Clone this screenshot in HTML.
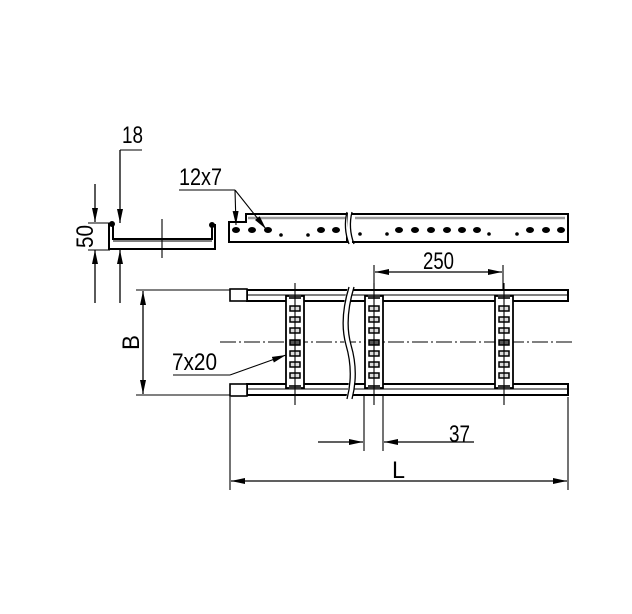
<!DOCTYPE html>
<html><head><meta charset="utf-8"><style>
html,body{margin:0;padding:0;background:#fff;}
svg{display:block;}
text{font-family:"Liberation Sans",sans-serif;fill:#000;}
</style></head><body>
<svg width="632" height="614" viewBox="0 0 632 614" xmlns="http://www.w3.org/2000/svg">
<defs>
<marker id="a" markerWidth="14" markerHeight="6" refX="14" refY="3" orient="auto" markerUnits="userSpaceOnUse"><path d="M0,0 L14,3 L0,6 Z" fill="#000"/></marker>
<g id="rung">
<rect x="-9" y="296" width="18" height="92" fill="#fff" stroke="#000" stroke-width="1.8"/>
<rect x="-6" y="295" width="12" height="4" fill="#333"/>
<rect x="-5" y="306" width="10" height="5" fill="#ddd" stroke="#000" stroke-width="1.5"/>
<rect x="-5" y="317" width="10" height="5" fill="#ddd" stroke="#000" stroke-width="1.5"/>
<rect x="-5" y="328" width="10" height="5" fill="#ddd" stroke="#000" stroke-width="1.5"/>
<rect x="-5" y="340" width="10" height="5" fill="#555" stroke="#000" stroke-width="1.5"/>
<rect x="-5" y="351" width="10" height="5" fill="#ddd" stroke="#000" stroke-width="1.5"/>
<rect x="-5" y="362" width="10" height="5" fill="#ddd" stroke="#000" stroke-width="1.5"/>
<rect x="-5" y="373" width="10" height="5" fill="#ddd" stroke="#000" stroke-width="1.5"/>
<rect x="-6" y="385" width="12" height="4" fill="#333"/>
<line x1="0" y1="283" x2="0" y2="405" stroke="#000" stroke-width="1.1"/>
</g>
</defs>
<g stroke="#000" fill="none">
<path d="M109,224 L109,249 L215,249 L215,225 L212,225 L212,239 L113,239 L113,224 Z" fill="#fff" stroke-width="2"/>
<line x1="113" y1="241" x2="212" y2="241" stroke-width="1"/>
<line x1="162" y1="219" x2="162" y2="258" stroke-width="1.1"/>
<circle cx="112" cy="224" r="2.5" fill="#000"/><circle cx="212" cy="225" r="2.5" fill="#000"/>
<line x1="95" y1="184" x2="95" y2="222" stroke-width="1.3" marker-end="url(#a)"/>
<line x1="95" y1="303" x2="95" y2="250" stroke-width="1.3" marker-end="url(#a)"/>
<line x1="88" y1="223" x2="110" y2="223" stroke-width="1.1"/>
<line x1="88" y1="250" x2="110" y2="250" stroke-width="1.1"/>
<line x1="120" y1="150" x2="120" y2="223" stroke-width="1.3" marker-end="url(#a)"/>
<line x1="120" y1="303" x2="120" y2="250" stroke-width="1.3" marker-end="url(#a)"/>
<line x1="120" y1="150" x2="142" y2="150" stroke-width="1.1"/>
<path d="M229,222 L246,222 L246,214 L347,214 L347,242 L229,242 Z" fill="#fff" stroke-width="2"/>
<path d="M352,214 L568,214 L568,242 L352,242" fill="#fff" stroke-width="2"/>
<line x1="248" y1="218" x2="346" y2="218" stroke="#999" stroke-width="2.5"/>
<line x1="355" y1="218" x2="565" y2="218" stroke="#999" stroke-width="2.5"/>
<path d="M347,212 Q343,228 349,244" stroke-width="1.3" fill="#fff"/>
<path d="M352,212 Q348,228 354,244" stroke-width="1.3"/>
<line x1="179" y1="190" x2="235" y2="190" stroke-width="1.1"/>
<line x1="235" y1="190" x2="236" y2="225" stroke-width="1.1" marker-end="url(#a)"/>
<line x1="235" y1="190" x2="266" y2="229" stroke-width="1.1" marker-end="url(#a)"/>
</g>
<g fill="#000">
<ellipse cx="236" cy="230" rx="4" ry="3"/><ellipse cx="252" cy="230" rx="4" ry="3"/><ellipse cx="268" cy="230" rx="4" ry="3"/>
<circle cx="281" cy="235" r="1.8"/><circle cx="308" cy="235" r="1.8"/>
<ellipse cx="321" cy="230" rx="4" ry="3"/><ellipse cx="336" cy="230" rx="4" ry="3"/>
<circle cx="360" cy="234" r="1.8"/><circle cx="387" cy="234" r="1.8"/>
<ellipse cx="399" cy="230" rx="4" ry="3"/><ellipse cx="415" cy="230" rx="4" ry="3"/><ellipse cx="431" cy="230" rx="4" ry="3"/><ellipse cx="447" cy="230" rx="4" ry="3"/><ellipse cx="462" cy="230" rx="4" ry="3"/><ellipse cx="477" cy="230" rx="4" ry="3"/>
<circle cx="489" cy="234" r="1.8"/><circle cx="517" cy="234" r="1.8"/>
<ellipse cx="530" cy="230" rx="4" ry="3"/><ellipse cx="546" cy="230" rx="4" ry="3"/><ellipse cx="561" cy="230" rx="4" ry="3"/>
</g>
<g stroke="#000" fill="none">
<rect x="247" y="290" width="321" height="11" fill="#fff" stroke-width="2"/>
<line x1="247" y1="295" x2="568" y2="295" stroke-width="1.1"/>
<rect x="247" y="384" width="321" height="11" fill="#fff" stroke-width="2"/>
<line x1="247" y1="389" x2="568" y2="389" stroke-width="1.1"/>
<rect x="230" y="289" width="17" height="12" fill="#fff" stroke-width="1.6"/>
<rect x="230" y="384" width="17" height="12" fill="#fff" stroke-width="1.6"/>
<line x1="220" y1="342" x2="572" y2="342" stroke-width="1.1" stroke-dasharray="16,3,2,3"/>
</g>
<use href="#rung" x="295"/>
<use href="#rung" x="374"/>
<use href="#rung" x="504"/>
<g stroke="#000" fill="none">
<path d="M351,287 Q341,320 348,345 Q356,372 349,399" stroke="#fff" stroke-width="6"/>
<path d="M349,287 Q339,320 346,345 Q354,372 347,399" stroke-width="1.3"/>
<path d="M354,287 Q344,320 351,345 Q359,372 352,399" stroke-width="1.3"/>
<line x1="136" y1="290" x2="230" y2="290" stroke-width="1.1"/>
<line x1="136" y1="395" x2="230" y2="395" stroke-width="1.1"/>
<line x1="143" y1="342" x2="143" y2="291" stroke-width="1.3" marker-end="url(#a)"/>
<line x1="143" y1="342" x2="143" y2="394" stroke-width="1.3" marker-end="url(#a)"/>
<line x1="173" y1="375" x2="230" y2="375" stroke-width="1.1"/>
<line x1="230" y1="375" x2="286" y2="355" stroke-width="1.1" marker-end="url(#a)"/>
<line x1="374" y1="265" x2="374" y2="290" stroke-width="1.1"/>
<line x1="503" y1="265" x2="503" y2="290" stroke-width="1.1"/>
<line x1="438" y1="272" x2="375" y2="272" stroke-width="1.3" marker-end="url(#a)"/>
<line x1="438" y1="272" x2="502" y2="272" stroke-width="1.3" marker-end="url(#a)"/>
<line x1="364" y1="396" x2="364" y2="451" stroke-width="1.1"/>
<line x1="383" y1="396" x2="383" y2="451" stroke-width="1.1"/>
<line x1="318" y1="442" x2="363" y2="442" stroke-width="1.3" marker-end="url(#a)"/>
<line x1="474" y1="442" x2="384" y2="442" stroke-width="1.3" marker-end="url(#a)"/>
<line x1="230" y1="397" x2="230" y2="490" stroke-width="1.1"/>
<line x1="568" y1="397" x2="568" y2="490" stroke-width="1.1"/>
<line x1="400" y1="481" x2="231" y2="481" stroke-width="1.3" marker-end="url(#a)"/>
<line x1="400" y1="481" x2="567" y2="481" stroke-width="1.3" marker-end="url(#a)"/>
</g>
<g font-size="24">
<text x="122" y="143" textLength="21" lengthAdjust="spacingAndGlyphs">18</text>
<text x="179" y="185" textLength="43" lengthAdjust="spacingAndGlyphs">12x7</text>
<text x="423" y="269" textLength="31" lengthAdjust="spacingAndGlyphs">250</text>
<text x="172" y="370" textLength="45" lengthAdjust="spacingAndGlyphs">7x20</text>
<text x="449" y="442" textLength="21" lengthAdjust="spacingAndGlyphs">37</text>
<text x="392" y="478" textLength="13" lengthAdjust="spacingAndGlyphs">L</text>
<text transform="translate(93,248) rotate(-90)" textLength="23" lengthAdjust="spacingAndGlyphs">50</text>
<text transform="translate(139,350) rotate(-90)" textLength="15" lengthAdjust="spacingAndGlyphs">B</text>
</g>
</svg>
</body></html>
